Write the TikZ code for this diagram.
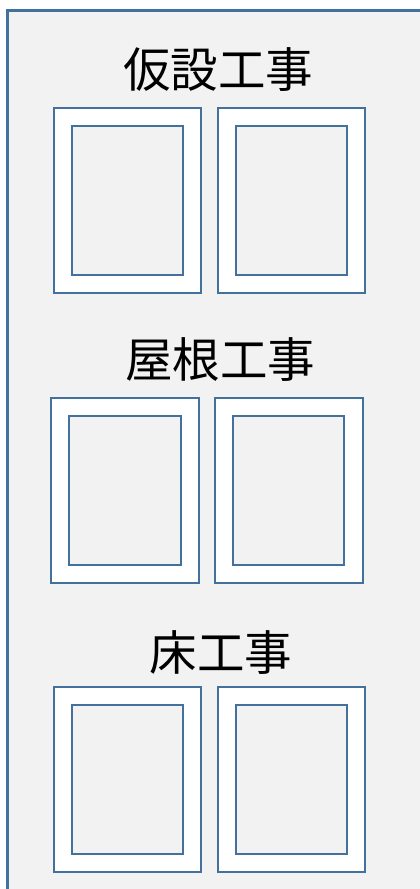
\documentclass[tikz,border=0pt]{standalone}
\usepackage{fontspec}
\newfontfamily\jpfont{Noto Sans CJK JP}
\definecolor{edge}{HTML}{41719C}
\definecolor{panel}{HTML}{F2F2F2}
\begin{document}
\begin{tikzpicture}[x=1pt,y=-1pt,
  outerbox/.style={draw=edge,line width=2.2pt,fill=white,minimum width=147pt,minimum height=185pt,inner sep=0pt,outer sep=0pt},
  innerbox/.style={draw=edge,line width=2.2pt,fill=panel,minimum width=111pt,minimum height=149pt,inner sep=0pt,outer sep=0pt},
  title/.style={font=\jpfont\fontsize{47.5pt}{50pt}\selectfont,text=black,inner sep=0pt}]
\useasboundingbox (0,0) rectangle (420,889);
\fill[white] (0,0) rectangle (420,889);
\begin{scope}
\clip (0,0) rectangle (420,889);
\draw[draw=edge,line width=3pt,fill=panel] (7,10.5) rectangle (440,910);
\end{scope}
% group 1
\node[title] (t1) at (218,69.5) {仮設工事};
\node[outerbox] (o1a) at (127.5,200.5) {};
\node[innerbox] (i1a) at (127.5,200.5) {};
\node[outerbox] (o1b) at (291.5,200.5) {};
\node[innerbox] (i1b) at (291.5,200.5) {};
% group 2
\node[title] (t2) at (220,360) {屋根工事};
\node[outerbox,minimum width=148pt] (o2a) at (125,490.5) {};
\node[innerbox,minimum width=112pt] (i2a) at (125,490.5) {};
\node[outerbox,minimum width=148pt] (o2b) at (289,490.5) {};
\node[innerbox] (i2b) at (288.5,490.5) {};
% group 3
\node[title] (t3) at (221,653) {床工事};
\node[outerbox] (o3a) at (127.5,779.5) {};
\node[innerbox] (i3a) at (127.5,779.5) {};
\node[outerbox] (o3b) at (291.5,779.5) {};
\node[innerbox] (i3b) at (291.5,779.5) {};
\end{tikzpicture}
\end{document}
